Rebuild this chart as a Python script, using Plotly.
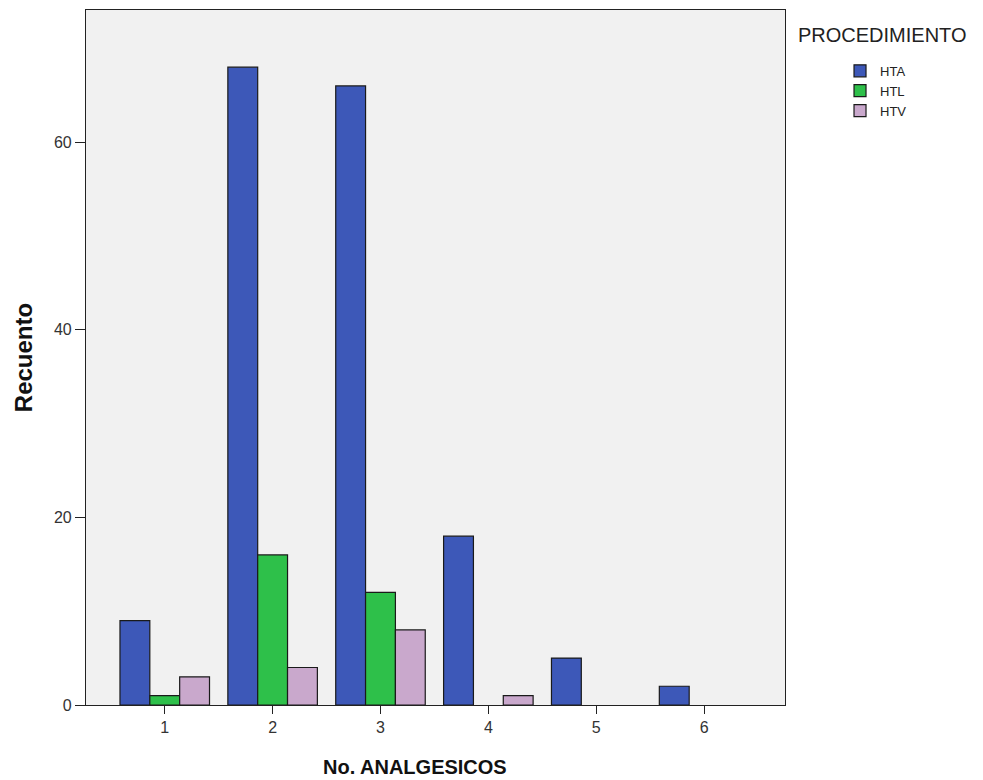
import plotly.graph_objects as go

categories = [1, 2, 3, 4, 5, 6]
hta = [9, 68, 66, 18, 5, 2]
htl = [1, 16, 12, None, None, None]
htv = [3, 4, 8, 1, None, None]
series_names = ["HTA", "HTL", "HTV"]
colors = ["#3d58b8", "#2ec04a", "#c9a8cc"]

fig = go.Figure()
for name, vals, col in zip(series_names, [hta, htl, htv], colors):
    fig.add_trace(go.Bar(
        x=categories, y=vals, name=name,
        marker=dict(color=col, line=dict(color="#1a1a1a", width=1.2)),
    ))

fig.update_layout(
    width=983, height=780,
    margin=dict(l=78, r=206, t=2, b=83),
    paper_bgcolor="white",
    plot_bgcolor="#f1f1f1",
    barmode="group",
    bargap=0.17,
    bargroupgap=0,
    font=dict(family="Liberation Sans, Arial, sans-serif", color="#222"),
    legend=dict(
        x=1.0787, xanchor="left", y=0.934, yanchor="top",
        font=dict(size=13, color="#222"),
        bgcolor="rgba(0,0,0,0)",
        tracegroupgap=0,
    ),
    showlegend=True,
    annotations=[
        dict(
            text="PROCEDIMIENTO", xref="paper", yref="paper",
            x=1.0157, y=0.964, xanchor="left", yanchor="middle",
            showarrow=False, font=dict(size=20, color="#222"),
        ),
        dict(
            text="<b>No. ANALGESICOS</b>", xref="paper", yref="paper",
            x=0.4707, y=-0.0892, xanchor="center", yanchor="middle",
            showarrow=False, font=dict(size=20, color="#111"),
        ),
    ],
)
fig.update_xaxes(
    range=[0.27, 6.75],
    tickmode="array", tickvals=categories, ticktext=[str(c) for c in categories],
    ticks="outside", ticklen=8, tickcolor="#222",
    showline=True, linecolor="#222", linewidth=1.2, mirror=True,
    showgrid=False, zeroline=False,
    tickfont=dict(size=16, color="#333"),
)
fig.update_yaxes(
    range=[0, 74.1],
    tickmode="array", tickvals=[0, 20, 40, 60],
    ticks="outside", ticklen=10, tickcolor="#222",
    showline=True, linecolor="#222", linewidth=1.2, mirror=True,
    showgrid=False, zeroline=False,
    tickfont=dict(size=16, color="#333"),
    title=dict(text="<b>Recuento</b>", font=dict(size=24, color="#111"), standoff=14),
)

fig.write_html("out.html")
